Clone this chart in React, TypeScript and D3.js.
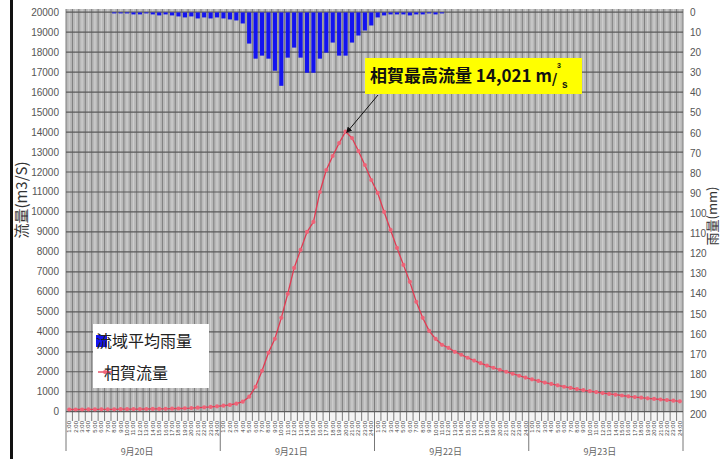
import React from "react";
import * as d3 from "d3";

// ---- data ----
const dayLabels = ["9月20日", "9月21日", "9月22日", "9月23日"];
const hourTicks = [
  "1:00","2:00","3:00","4:00","5:00","6:00","7:00","8:00","9:00","10:00","11:00","12:00",
  "13:00","14:00","15:00","16:00","17:00","18:00","19:00","20:00","21:00","22:00","23:00","24:00",
];
// hourly flow at 相賀 (m3/s), 96 hours
const flow = [
  110, 110, 110, 115, 115, 120, 120, 120, 125, 125, 130, 130, 135, 140, 140, 145, 150, 160, 170, 180,
  200, 220, 240, 270, 300, 340, 400, 500, 750, 1250, 2050, 2950, 3650, 4700, 5900, 7200, 8100, 9000,
  9500, 11000, 12100, 12800, 13450, 14021, 13700, 13050, 12350, 11600, 10950, 10000, 9100, 8200, 7350,
  6500, 5500, 4700, 4050, 3650, 3350, 3200, 3000, 2850, 2700, 2560, 2430, 2310, 2200, 2100, 2000, 1900,
  1800, 1710, 1620, 1540, 1460, 1390, 1320, 1250, 1190, 1130, 1080, 1030, 980, 930, 890, 850, 810, 770,
  730, 700, 670, 640, 610, 580, 550, 520,
];
// hourly basin-average rainfall (mm), 96 hours
const rain = [
  0, 0, 0, 0, 0, 0, 0, 0.5, 0.5, 0.5, 1, 1, 0.5, 1, 1.5, 1, 1.5, 2, 2.5, 2,
  3, 2.5, 3, 2.5, 3, 3.5, 4, 5.5, 15.5, 23, 21.5, 23, 29, 36.5, 22.5, 17.5, 22.5, 30,
  30, 23, 20, 15, 21.5, 21.5, 15, 11.5, 9, 6.5, 2.5, 1.5, 1, 1, 1, 1.5, 1, 1, 0.5, 1,
  0.5, 0, 0, 0, 0, 0, 0, 0, 0, 0, 0, 0, 0, 0, 0, 0, 0, 0, 0, 0, 0, 0, 0, 0, 0, 0,
  0, 0, 0, 0, 0, 0, 0, 0, 0, 0, 0, 0,
];
const flowTicks = [0, 1000, 2000, 3000, 4000, 5000, 6000, 7000, 8000, 9000, 10000, 11000, 12000, 13000, 14000, 15000, 16000, 17000, 18000, 19000, 20000];
const rainTicks = [0, 10, 20, 30, 40, 50, 60, 70, 80, 90, 100, 110, 120, 130, 140, 150, 160, 170, 180, 190, 200];
const peakLabel = "相賀最高流量 14,021 m";
const legendRain = "流域平均雨量";
const legendFlow = "相賀流量";
const leftTitle = "流量(m3/S)";
const rightTitle = "雨量(mm)";

const W = 720, H = 459;
const L = 66, R = 683, T = 11, B = 412;
const FONT = "'Liberation Sans', 'Noto Sans CJK JP', sans-serif";
const JFONT = "'Noto Sans CJK JP', sans-serif";

export default function App() {
  const idx = d3.range(flow.length);
  const x = d3.scaleBand<number>().domain(idx).range([L, R]).paddingInner(0);
  const xb = d3.scaleBand<number>().domain(idx).range([L, R]).paddingInner(0.35).paddingOuter(0.175);
  const yL = d3.scaleLinear().domain([0, 20000]).range([411.7, 12.2]);
  const yR = d3.scaleLinear().domain([0, 200]).range([12.4, 414.6]);
  const line = d3.line<number>().x((_, i) => x(i)! + x.bandwidth() / 2).y((d) => yL(d));
  const bw = x.bandwidth();
  const dayW = (R - L) / dayLabels.length;

  return (
    <svg width={W} height={H} style={{ position: "absolute", left: 0, top: 0, background: "#fff" }}>
      <rect x={0} y={0} width={W} height={H} fill="#fff" />
      <rect x={10} y={0} width={3} height={H} fill="#111" />
      {/* plot background */}
      <rect x={L} y={T - 2} width={R - L} height={B - T + 2} fill="#b9b9b9" />
      <rect x={L} y={B} width={R - L} height={9} fill="#f4f4f4" />
      {/* light stripes */}
      {idx.map((i) => (
        <line key={"ls" + i} x1={x(i)! + bw / 2} x2={x(i)! + bw / 2} y1={T - 2} y2={B} stroke="#cfcfcf" strokeWidth={1.2} />
      ))}
      {/* vertical grid */}
      {[...idx, flow.length].map((i) => {
        const xx = i < flow.length ? x(i)! : R;
        return <line key={"vg" + i} x1={xx} x2={xx} y1={T - 2} y2={B + 9} stroke="#7d7d7d" strokeWidth={1} />;
      })}
      {/* horizontal grid */}
      {flowTicks.map((t) => (
        <line key={"hg" + t} x1={L} x2={R} y1={yL(t)} y2={yL(t)} stroke="#5a5a5a" strokeWidth={1.2} />
      ))}
      {/* rain bars */}
      {rain.map((r, i) =>
        r > 0 ? (
          <rect key={"b" + i} x={xb(i)!} y={yR(0)} width={xb.bandwidth()} height={yR(r) - yR(0)} fill="#1414f0" />
        ) : null
      )}
      {/* flow line */}
      <path d={line(flow)!} fill="none" stroke="#e23a52" strokeWidth={1.3} />
      {flow.map((f, i) => (
        <circle key={"m" + i} cx={x(i)! + bw / 2} cy={yL(f)} r={2.1} fill="#ef6478" />
      ))}
      {/* left ticks */}
      {flowTicks.map((t) => (
        <text key={"lt" + t} x={59} y={yL(t)} dy="0.35em" textAnchor="end" fontSize={10} fill="#555" fontFamily={FONT}>
          {t}
        </text>
      ))}
      {/* right ticks */}
      {rainTicks.map((t) => (
        <text key={"rt" + t} x={690} y={yR(t)} dy="0.35em" textAnchor="start" fontSize={10} fill="#555" fontFamily={FONT}>
          {t}
        </text>
      ))}
      {/* hour labels */}
      {idx.map((i) => (
        <text
          key={"hl" + i}
          transform={`translate(${x(i)! + bw / 2 + 2},${B + 9}) rotate(-90)`}
          textAnchor="end"
          fontSize={6}
          fill="#444"
          fontFamily={FONT}
        >
          {hourTicks[i % 24]}
        </text>
      ))}
      {/* day separators & labels */}
      {d3.range(dayLabels.length + 1).map((d) => (
        <line key={"ds" + d} x1={L + d * dayW} x2={L + d * dayW} y1={B + 9} y2={451} stroke="#777" strokeWidth={1} />
      ))}
      {dayLabels.map((d, k) => (
        <text key={"dl" + k} x={L + (k + 0.5) * dayW - 6} y={455} textAnchor="middle" fontSize={9} fill="#666" fontFamily={JFONT}>
          {d}
        </text>
      ))}
      {/* axis titles */}
      <text transform="translate(27,200) rotate(-90)" textAnchor="middle" fontSize={15} fill="#333" fontFamily={JFONT}>
        {leftTitle}
      </text>
      <text transform="translate(717,216) rotate(-90)" textAnchor="middle" fontSize={13} fill="#333" fontFamily={JFONT}>
        {rightTitle}
      </text>
      {/* peak annotation */}
      <rect x={365} y={58} width={217} height={36} fill="#ffff00" />
      <text x={370} y={82} fontSize={17} fontWeight="bold" fill="#111" fontFamily={JFONT}>
        {peakLabel}
      </text>
      <text x={557} y={68} fontSize={7} fontWeight="bold" fill="#111" fontFamily={FONT}>3</text>
      <text x={552} y={86} fontSize={18} fill="#111" fontFamily={FONT}>/</text>
      <text x={562} y={88} fontSize={10} fontWeight="bold" fill="#111" fontFamily={FONT}>s</text>
      <defs>
        <marker id="ah" viewBox="0 0 10 10" refX={9} refY={5} markerWidth={6} markerHeight={6} orient="auto">
          <path d="M0,0 L10,5 L0,10 z" fill="#111" />
        </marker>
      </defs>
      <line x1={378} y1={95} x2={x(43)! + bw / 2 + 1} y2={yL(14021) + 1} stroke="#111" strokeWidth={1} markerEnd="url(#ah)" />
      {/* legend */}
      <rect x={93} y={324} width={116} height={64} fill="#fff" />
      <rect x={96} y={335} width={11} height={12} fill="#1414f0" />
      <text x={96} y={347} fontSize={16} fill="#222" fontFamily={JFONT}>
        {legendRain}
      </text>
      <text x={104} y={379} fontSize={16} fill="#222" fontFamily={JFONT}>
        {legendFlow}
      </text>
      <line x1={98} x2={112} y1={372} y2={372} stroke="#e23a52" strokeWidth={1.3} />
      <circle cx={105} cy={372} r={2.1} fill="#ef6478" />
    </svg>
  );
}
